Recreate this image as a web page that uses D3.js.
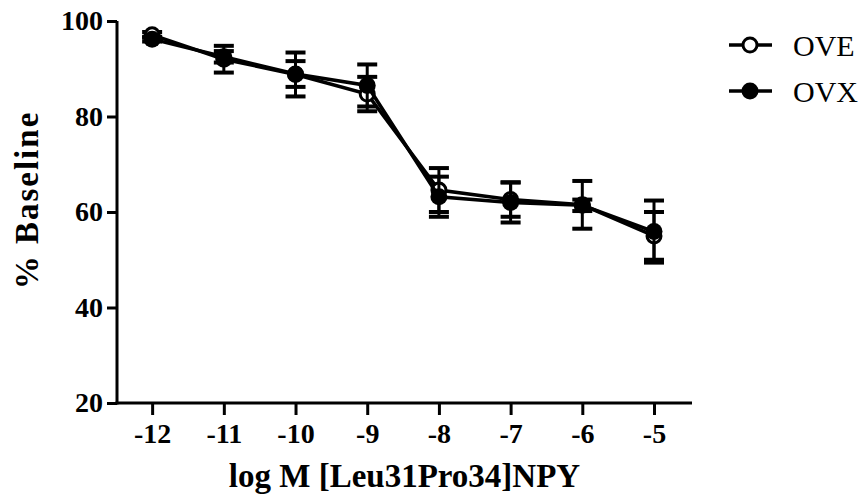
<!DOCTYPE html>
<meta charset="utf-8">
<head>
<script src="https://d3js.org/d3.v7.min.js"></script>
<style>
  body { margin: 0; background: #fff; }
  text { font-family: "Liberation Serif", "Times New Roman", serif; }
</style>
</head>
<body>
<div id="my_dataviz"></div>
<script>

// data
var doses = [-12, -11, -10, -9, -8, -7, -6, -5];
var oveMean = [97.1, 92.0, 88.8, 84.7, 64.6, 62.6, 61.5, 55.0];
var oveSem  = [0.6, 2.8, 4.6, 3.6, 4.6, 3.6, 5.0, 5.0];
var ovxMean = [96.2, 92.5, 88.9, 86.5, 63.2, 62.0, 61.4, 55.9];
var ovxSem  = [0.5, 1.2, 2.7, 4.4, 4.2, 4.2, 1.2, 6.5];
var xTicks = [-12, -11, -10, -9, -8, -7, -6, -5];
var yTicks = [20, 40, 60, 80, 100];

// build series from the arrays
var series = [
  { name: "OVE", open: true,  values: doses.map(function(d, i) { return {x: d, y: oveMean[i], e: oveSem[i]}; }) },
  { name: "OVX", open: false, values: doses.map(function(d, i) { return {x: d, y: ovxMean[i], e: ovxSem[i]}; }) }
];

// plot box in page pixels
var box = {left: 117, right: 692, top: 21, bottom: 403};

var svg = d3.select("#my_dataviz")
  .append("svg")
    .attr("width", 864)
    .attr("height", 498);

var x = d3.scaleLinear().domain([-12.49, -4.47]).range([box.left, box.right]);
var y = d3.scaleLinear().domain([20, 100]).range([box.bottom, box.top]);

// X axis
var gx = svg.append("g")
  .attr("transform", "translate(0," + box.bottom + ")")
  .call(d3.axisBottom(x).tickValues(xTicks).tickSize(12).tickSizeOuter(0).tickPadding(8)
    .tickFormat(function(d) { return "-" + Math.abs(d); }));

// Y axis
var gy = svg.append("g")
  .attr("transform", "translate(" + box.left + ",0)")
  .call(d3.axisLeft(y).tickValues(yTicks).tickSize(10).tickSizeOuter(0).tickPadding(4));

[gx, gy].forEach(function(g) {
  g.select(".domain").attr("stroke", "#000").attr("stroke-width", 3);
  g.selectAll(".tick line").attr("stroke", "#000").attr("stroke-width", 3);
  g.selectAll(".tick text")
    .attr("fill", "#000")
    .style("font-family", "'Liberation Serif', serif")
    .style("font-weight", "bold")
    .style("font-size", "28px");
});
// make axes meet cleanly at the corner
gx.select(".domain").attr("d", "M" + (box.left - 1.5) + ",0H" + box.right);
gy.select(".domain").attr("d", "M0," + box.top + "V" + (box.bottom + 1.5));

// axis titles
svg.append("text")
  .attr("x", (box.left + box.right) / 2)
  .attr("y", 487)
  .attr("text-anchor", "middle")
  .style("font-weight", "bold")
  .style("font-size", "33px")
  .text("log M [Leu31Pro34]NPY");

svg.append("text")
  .attr("transform", "translate(38,200) rotate(-90)")
  .attr("text-anchor", "middle")
  .style("font-weight", "bold")
  .style("font-size", "33px")
  .style("letter-spacing", "2px")
  .text("% Baseline");

var line = d3.line()
  .x(function(d) { return x(d.x); })
  .y(function(d) { return y(d.y); });

var capW = 10;

series.forEach(function(s) {
  var g = svg.append("g");

  // error bars
  var eb = g.selectAll(".eb").data(s.values).enter().append("g");
  eb.append("line")
    .attr("x1", function(d) { return x(d.x); })
    .attr("x2", function(d) { return x(d.x); })
    .attr("y1", function(d) { return y(d.y + d.e); })
    .attr("y2", function(d) { return y(d.y - d.e); })
    .attr("stroke", "#000").attr("stroke-width", 3);
  [1, -1].forEach(function(sign) {
    eb.append("line")
      .attr("x1", function(d) { return x(d.x) - capW; })
      .attr("x2", function(d) { return x(d.x) + capW; })
      .attr("y1", function(d) { return y(d.y + sign * d.e); })
      .attr("y2", function(d) { return y(d.y + sign * d.e); })
      .attr("stroke", "#000").attr("stroke-width", 4);
  });

  // connecting line
  g.append("path").datum(s.values)
    .attr("fill", "none")
    .attr("stroke", "#000")
    .attr("stroke-width", 3.5)
    .attr("d", line);

  // markers
  g.selectAll("circle").data(s.values).enter().append("circle")
    .attr("cx", function(d) { return x(d.x); })
    .attr("cy", function(d) { return y(d.y); })
    .attr("r", s.open ? 7 : 8.5)
    .attr("fill", s.open ? "#fff" : "#000")
    .attr("stroke", "#000")
    .attr("stroke-width", s.open ? 3 : 0);
});

// legend
var legend = svg.append("g");
series.forEach(function(s, i) {
  var ly = 45 + i * 46;
  legend.append("line")
    .attr("x1", 729).attr("x2", 772)
    .attr("y1", ly).attr("y2", ly)
    .attr("stroke", "#000").attr("stroke-width", 3.5);
  legend.append("circle")
    .attr("cx", 750).attr("cy", ly)
    .attr("r", s.open ? 7 : 8.5)
    .attr("fill", s.open ? "#fff" : "#000")
    .attr("stroke", "#000")
    .attr("stroke-width", s.open ? 3 : 0);
  legend.append("text")
    .attr("x", 793).attr("y", ly)
    .attr("dy", "0.35em")
    .style("font-size", "30px")
    .text(s.name);
});

</script>
</body>
</html>
